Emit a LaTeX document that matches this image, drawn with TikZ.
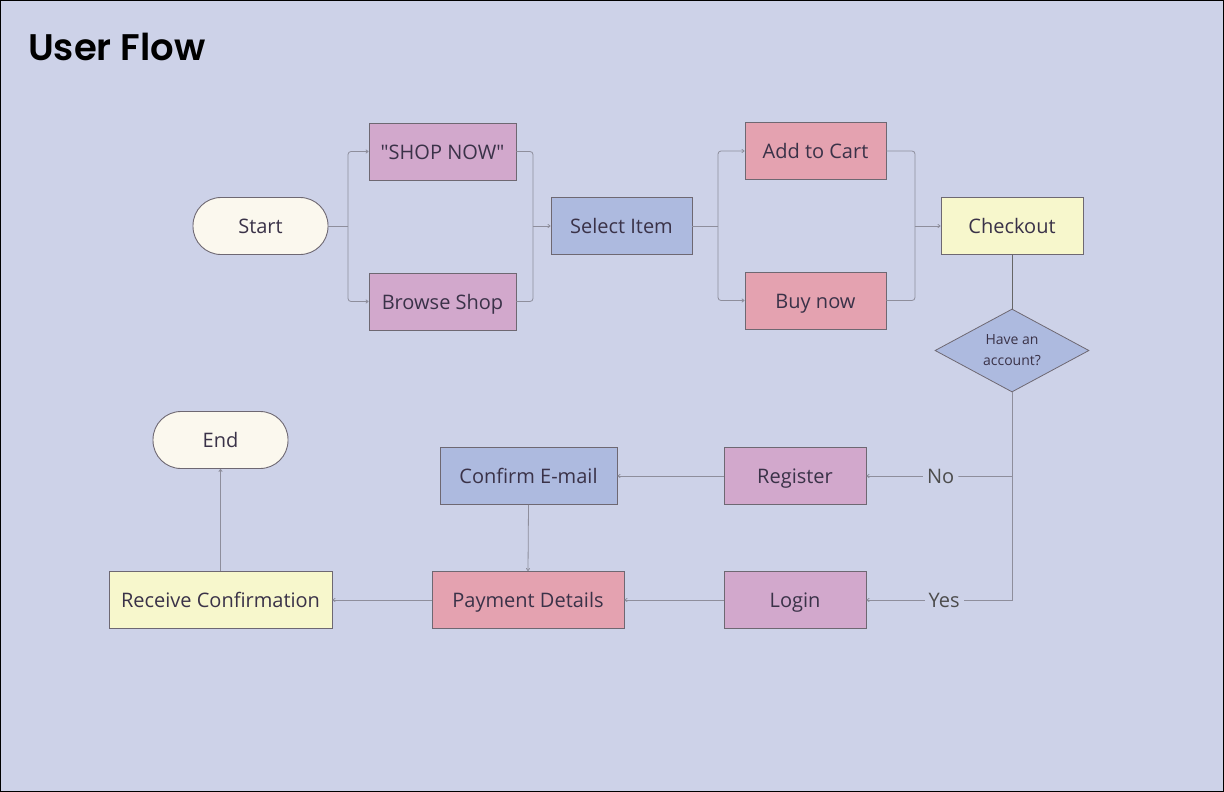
\documentclass[tikz,border=0pt]{standalone}
\usepackage{fontspec}
\setmainfont{Open Sans}
\newfontfamily\qfont{Open Sans}
\newfontfamily\titlefont{Poppins SemiBold}
\usetikzlibrary{shapes.geometric,arrows.meta}
\definecolor{bg}{HTML}{CDD2E8}
\definecolor{cpurple}{HTML}{D2A8CC}
\definecolor{cred}{HTML}{E4A2B0}
\definecolor{cblue}{HTML}{ADBADF}
\definecolor{cyellow}{HTML}{F7F7CC}
\definecolor{ccream}{HTML}{FBF8EE}
\definecolor{cborder}{HTML}{6E6872}
\definecolor{ctext}{HTML}{3A3248}
\definecolor{cline}{HTML}{8E8E9C}
\begin{document}
\begin{tikzpicture}[x=1pt,y=-1pt,
  box/.style={draw=cborder,line width=0.9pt,minimum height=57pt,inner sep=0pt,text=ctext,text height=15pt,text depth=0pt,font=\fontsize{20}{24}\selectfont},
  pill/.style={box,fill=ccream,rounded corners=28pt,minimum width=135pt},
  conn/.style={draw=cline,line width=0.8pt,rounded corners=3pt},
  arr/.style={conn,-{To[length=3pt,width=4pt]}},
  lbl/.style={fill=bg,inner sep=4pt,text=black!70,font=\fontsize{20}{24}\selectfont}]
\fill[bg] (0,0) rectangle (1224,792);
\draw[black,line width=1pt] (0.5,0.5) rectangle (1223.5,791.5);
\node[anchor=west,inner sep=0pt,font=\titlefont\fontsize{37}{40}\selectfont] (title) at (28,47) {User Flow};
% nodes
\node[pill] (start) at (260.5,226) {Start};
\node[box,fill=cpurple,minimum width=147pt] (shop) at (442.5,151.5) {\qfont"SHOP NOW"};
\node[box,fill=cpurple,minimum width=147pt] (browse) at (442.5,301.5) {Browse Shop};
\node[box,fill=cblue,minimum width=141pt] (select) at (621.5,226) {Select Item};
\node[box,fill=cred,minimum width=141pt] (cart) at (815.5,151) {Add to Cart};
\node[box,fill=cred,minimum width=141pt] (buy) at (815.5,300.5) {Buy now};
\node[box,fill=cyellow,minimum width=142pt] (checkout) at (1012,226) {Checkout};
\node[diamond,draw=cborder,line width=0.8pt,fill=cblue,inner sep=0pt,minimum width=154pt,minimum height=83pt,shape aspect=1.855,text=ctext,align=center,font=\fontsize{14}{21}\selectfont] (acct) at (1012,350.5) {Have an\\account?};
\node[box,fill=cpurple,minimum width=142pt] (register) at (795,476) {Register};
\node[box,fill=cpurple,minimum width=142pt] (login) at (795,600) {Login};
\node[box,fill=cblue,minimum width=177pt] (confirm) at (528.5,476) {Confirm E-mail};
\node[box,fill=cred,minimum width=192pt] (payment) at (528,600) {Payment Details};
\node[box,fill=cyellow,minimum width=223pt] (receive) at (220.5,600) {Receive Confirmation};
\node[pill] (end) at (220.5,440) {End};
% connectors
\coordinate (f1) at (348,226);
\coordinate (m1) at (533,226);
\coordinate (f2) at (718,226);
\coordinate (m2) at (915,226);
\draw[conn] (start.east) -- (f1);
\draw[arr] (f1) |- (shop.west);
\draw[arr] (f1) |- (browse.west);
\draw[conn] (shop.east) -| (m1);
\draw[conn] (browse.east) -| (m1);
\draw[arr] (m1) -- (select.west);
\draw[conn] (select.east) -- (f2);
\draw[arr] (f2) |- (cart.west);
\draw[arr] (f2) |- (buy.west);
\draw[conn] (cart.east) -| (m2);
\draw[conn] (buy.east) -| (m2);
\draw[arr] (m2) -- (checkout.west);
\draw[draw=black!60,line width=0.9pt] (checkout.south) -- (acct.north);
\coordinate (nb) at (acct.south |- register.east);
\draw[arr,rounded corners=0pt] (acct.south) |- node[lbl,pos=0.733]{Yes} (login.east);
\draw[arr] (nb) -- node[lbl,pos=0.49]{No} (register.east);
\draw[arr] (register.west) -- (confirm.east);
\draw[arr] (confirm.south) -- (payment.north);
\draw[arr] (login.west) -- (payment.east);
\draw[arr] (payment.west) -- (receive.east);
\draw[arr] (receive.north) -- (end.south);
\end{tikzpicture}
\end{document}
